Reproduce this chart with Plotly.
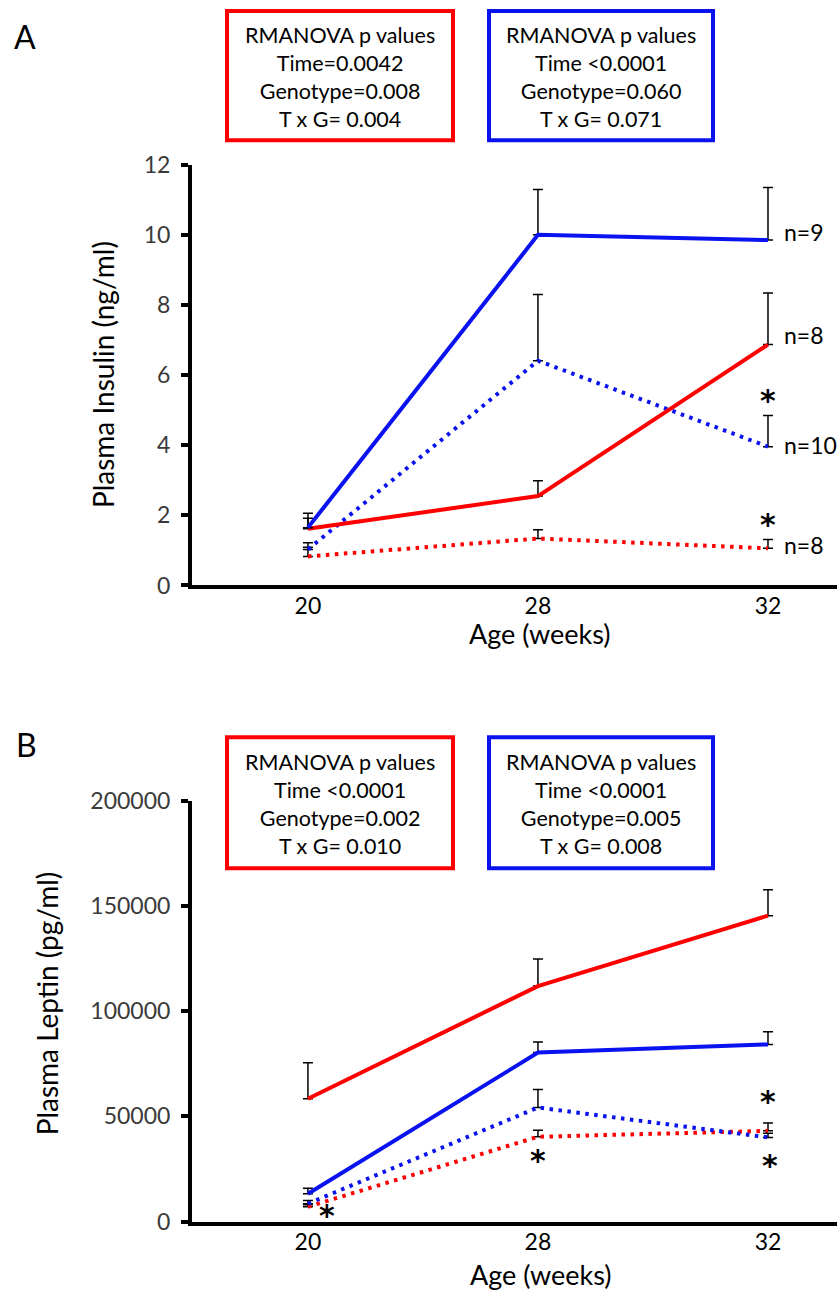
import plotly.graph_objects as go

# ---------------- data ----------------
ages = ["20", "28", "32"]

# Panel A: plasma insulin (ng/ml)
ins_red_solid = [1.62, 2.55, 6.87]
ins_red_solid_se = [0.44, 0.44, 1.47]
ins_blue_solid = [1.65, 10.0, 9.85]
ins_blue_solid_se = [0.27, 1.29, 1.50]
ins_blue_dot = [1.03, 6.41, 3.96]
ins_blue_dot_se = [0.19, 1.89, 0.89]
ins_red_dot = [0.83, 1.34, 1.06]
ins_red_dot_se = [0.26, 0.25, 0.25]
ins_n_labels = ["n=9", "n=8", "n=10", "n=8"]

# Panel B: plasma leptin (pg/ml)
lep_red_solid = [58400, 111900, 145400]
lep_red_solid_se = [17100, 12900, 12300]
lep_blue_solid = [13200, 80300, 84200]
lep_blue_solid_se = [2600, 5000, 6000]
lep_blue_dot = [8500, 54200, 40000]
lep_blue_dot_se = [1500, 8600, 2000]
lep_red_dot = [7000, 40300, 43100]
lep_red_dot_se = [1000, 3100, 3700]

box_a_red = ["RMANOVA p values", "Time=0.0042", "Genotype=0.008", "T x G= 0.004"]
box_a_blue = ["RMANOVA p values", "Time <0.0001", "Genotype=0.060", "T x G= 0.071"]
box_b_red = ["RMANOVA p values", "Time <0.0001", "Genotype=0.002", "T x G= 0.010"]
box_b_blue = ["RMANOVA p values", "Time <0.0001", "Genotype=0.005", "T x G= 0.008"]

# asterisk label positions (category, value, x offset px)
ins_stars = [("32", 5.40, 0), ("32", 1.85, 0)]
lep_stars = [("20", 4300, 19), ("28", 30400, 0), ("32", 58400, 0), ("32", 28100, 2)]

# ---------------- layout helpers ----------------
W, H = 837, 1305
FONT = "Lato"
RED = "#FF0000"
BLUE = "#0A12F0"


def px(x):
    return x / W


def py(y):
    return 1 - y / H


fig = go.Figure()


def add_series(x, y, se, color, dotted, xa, ya):
    fig.add_trace(go.Scatter(
        x=[ages.index(v) for v in x], y=y, mode="lines",
        line=dict(color=color, width=4, dash="3.5px,5.5px" if dotted else "solid"),
        error_y=dict(type="data", symmetric=False, array=se, arrayminus=[0] * len(se),
                     color="black", thickness=1.5, width=5),
        xaxis=xa, yaxis=ya, showlegend=False, hoverinfo="skip",
    ))


add_series(ages, ins_red_dot, ins_red_dot_se, RED, True, "x", "y")
add_series(ages, ins_blue_dot, ins_blue_dot_se, BLUE, True, "x", "y")
add_series(ages, ins_red_solid, ins_red_solid_se, RED, False, "x", "y")
add_series(ages, ins_blue_solid, ins_blue_solid_se, BLUE, False, "x", "y")

add_series(ages, lep_red_dot, lep_red_dot_se, RED, True, "x2", "y2")
add_series(ages, lep_blue_dot, lep_blue_dot_se, BLUE, True, "x2", "y2")
add_series(ages, lep_red_solid, lep_red_solid_se, RED, False, "x2", "y2")
add_series(ages, lep_blue_solid, lep_blue_solid_se, BLUE, False, "x2", "y2")

xcommon = dict(type="linear", range=[-0.504, 2.3], showline=True, linecolor="black",
               linewidth=4, ticks="", showgrid=False, zeroline=False,
               tickmode="array", tickvals=list(range(len(ages))), ticktext=ages,
               tickfont=dict(family=FONT, size=23, color="black"), ticklabelstandoff=-3)
ycommon = dict(showline=True, linecolor="black", linewidth=4, ticks="outside", ticklen=7,
               tickwidth=3.5, tickcolor="black", showgrid=False, zeroline=False,
               tickfont=dict(family=FONT, size=23, color="#3a3a3a"), ticklabelstandoff=6)

fig.update_layout(
    width=W, height=H, margin=dict(l=0, r=0, t=0, b=0),
    paper_bgcolor="white", plot_bgcolor="white",
    xaxis=dict(domain=[px(192), 1], anchor="y", **xcommon),
    yaxis=dict(domain=[py(583), py(153)], anchor="x", range=[0, 12], dtick=2, **ycommon),
    xaxis2=dict(domain=[px(192), 1], anchor="y2", **xcommon),
    yaxis2=dict(domain=[py(1233), py(803)], anchor="x2", range=[0, 200000], dtick=50000,
                tickformat="d", **ycommon),
)

ann = []
shapes = []


def text(x, y, s, size=22, color="black", angle=0):
    ann.append(dict(x=px(x), y=py(y), xref="paper", yref="paper", text=s,
                    showarrow=False, textangle=angle, xanchor="center", yanchor="middle",
                    font=dict(family=FONT, size=size, color=color)))


def box(x0, x1, y0, y1, color, lines):
    shapes.append(dict(type="rect", xref="paper", yref="paper", x0=px(x0), x1=px(x1),
                       y0=py(y1), y1=py(y0), line=dict(color=color, width=4),
                       fillcolor="white"))
    ann.append(dict(x=px((x0 + x1) / 2), y=py((y0 + y1) / 2 + 1), xref="paper", yref="paper",
                    text="<br>".join(lines), showarrow=False, align="center",
                    xanchor="center", yanchor="middle",
                    font=dict(family=FONT, size=21.5, color="black")))


# panel letters
text(25, 22, "A", size=32)
text(26, 745, "B", size=32)

# p-value boxes
box(227, 453, -4, 128, RED, box_a_red)
box(489, 713, -4, 128, BLUE, box_a_blue)
box(227, 453, 738, 872, RED, box_b_red)
box(489, 713, 738, 872, BLUE, box_b_blue)

# axis titles
text(540, 632, "Age (weeks)", size=27)
text(541, 1287, "Age (weeks)", size=27)
text(103, 368, "Plasma Insulin (ng/ml)", size=28, angle=-90)
text(47, 1010, "Plasma Leptin (pg/ml)", size=28, angle=-90)

# n labels at the last time point
n_series = [ins_blue_solid, ins_red_solid, ins_blue_dot, ins_red_dot]
n_shift = [8, 10, 2, 3]
for lab, ser, sh in zip(ins_n_labels, n_series, n_shift):
    ann.append(dict(x=len(ages) - 1, y=ser[-1], xref="x", yref="y", text=lab, showarrow=False,
                    xanchor="left", yanchor="middle", xshift=14, yshift=sh,
                    font=dict(family=FONT, size=23, color="black")))

# asterisks
STAR = dict(family="DejaVu Sans", size=30, color="black")
for cat, val, xs in ins_stars:
    ann.append(dict(x=ages.index(cat), y=val, xref="x", yref="y", text="<b>*</b>",
                    showarrow=False, xanchor="center", yanchor="middle", xshift=xs, yshift=-4,
                    font=STAR))
for cat, val, xs in lep_stars:
    ann.append(dict(x=ages.index(cat), y=val, xref="x2", yref="y2", text="<b>*</b>",
                    showarrow=False, xanchor="center", yanchor="middle", xshift=xs, yshift=-3,
                    font=STAR))

fig.update_layout(annotations=ann, shapes=shapes)
fig.write_html("out.html", config={"displayModeBar": False},
               post_script="document.body.style.margin='0';")
